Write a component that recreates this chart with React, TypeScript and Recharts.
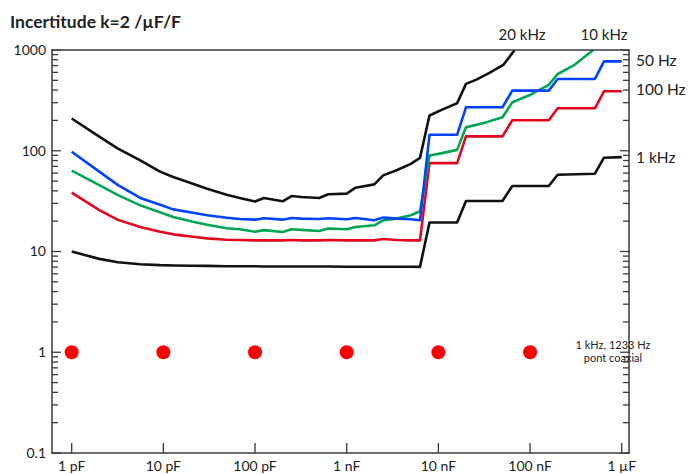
import { ComposedChart, Line, Scatter, XAxis, YAxis } from 'recharts';

// capacitance in pF, uncertainty in µF/F
const capSteps = [1, 2, 3.2, 5.6, 9.2, 12.8, 21, 30, 49, 68, 100, 125, 200, 250, 320, 500, 630, 1000, 1250, 2000, 2500, 3500, 5000, 6300, 8000, 16000, 20000, 50000, 64000, 160000, 200000, 510000, 640000, 1000000];
const u50Hz = [97.7, 62.0, 45.6, 34.0, 29.1, 26.2, 24.2, 22.9, 21.6, 21.0, 20.7, 21.4, 20.7, 21.5, 21.2, 21, 21.4, 20.9, 21.5, 20.4, 21.7, 21.2, 20.9, 20.4, 144, 144, 270, 270, 395, 395, 516, 516, 771, 771];
const u100Hz = [38.4, 25.8, 20.6, 17.5, 15.7, 14.8, 14.0, 13.5, 13.1, 13.0, 12.9, 12.9, 12.9, 13.0, 12.9, 12.9, 13.0, 12.9, 12.9, 12.9, 13.3, 13.0, 12.9, 12.9, 75.4, 75.4, 139, 139, 201, 201, 264, 264, 389, 389];
const u1kHz = [10.0, 8.45, 7.83, 7.48, 7.32, 7.27, 7.22, 7.2, 7.15, 7.15, 7.15, 7.1, 7.1, 7.1, 7.1, 7.1, 7.1, 7.05, 7.05, 7.05, 7.05, 7.05, 7.05, 7.04, 19.4, 19.4, 31.7, 31.7, 44.7, 44.7, 57.8, 59.2, 85.3, 86.4];

const cap20k = [1, 2, 3.2, 5.6, 9.2, 12.8, 21, 30, 49, 68, 100, 125, 200, 250, 320, 500, 630, 1000, 1250, 2000, 2500, 3500, 5000, 6300, 8000, 11000, 16000, 20000, 26000, 36000, 51000, 68000];
const u20kHz = [209, 138, 105, 80.2, 62.1, 54.8, 47.1, 42.0, 36.6, 34.0, 31.3, 34, 31.5, 35.5, 34.7, 34, 37, 37.5, 43, 46.4, 57, 64, 74, 85, 224, 256, 296, 461, 508, 592, 711, 1000];

const cap10k = [1, 2, 3.2, 5.6, 9.2, 12.8, 21, 30, 49, 68, 100, 125, 200, 250, 320, 500, 630, 1000, 1250, 2000, 2500, 3500, 5000, 6300, 8000, 11000, 16000, 20000, 31000, 50000, 64000, 100000, 160000, 200000, 296000, 490000];
const u10kHz = [63.4, 45.6, 36.3, 28.7, 24.5, 22.0, 19.7, 18.4, 17.0, 16.6, 15.7, 16.3, 15.6, 16.6, 16.4, 16.0, 16.9, 16.6, 17.5, 18.2, 20.4, 21.2, 22.9, 25.1, 89.8, 94.7, 102, 171, 188, 215, 303, 358, 450, 578, 699, 1000];

const coaxCap = [1, 10, 100, 1000, 10000, 100000];
const coaxU = [1, 1, 1, 1, 1, 1];

const xTicks = [1, 10, 100, 1000, 10000, 100000, 1000000];
const xLabels = ['1 pF', '10 pF', '100 pF', '1 nF', '10 nF', '100 nF', '1 µF'];
const yDecades = [0.1, 1, 10, 100, 1000];
const yLabels = ['0.1', '1', '10', '100', '1000'];

const zip = (xs: number[], ys: number[]) => xs.map((c, i) => ({ c, v: ys[i] }));

const yMinor: number[] = [];
yDecades.slice(0, 4).forEach((d) => {
  for (let m = 2; m < 10; m++) yMinor.push(d * m);
});

const AXIS = '#3a3a3a';
const FONT = 'Lato, "Open Sans", sans-serif';
const X_DOMAIN: [number, number] = [0.61, 1.2e6];
const Y_DOMAIN: [number, number] = [0.1, 1000];

const labelFor = (vals: number[], labels: string[]) => (v: number) => {
  const i = vals.findIndex((d) => Math.abs(d - v) / d < 1e-6);
  return i >= 0 ? labels[i] : '';
};

// tick marks only, no text
const noLabel = () => <g />;

const lineProps = {
  xAxisId: 'b',
  yAxisId: 'l1',
  dataKey: 'v',
  type: 'linear' as const,
  dot: false,
  strokeWidth: 2.6,
  strokeLinejoin: 'round' as const,
  isAnimationActive: false,
};

const tickLineStyle = { stroke: AXIS, strokeWidth: 1.3 };
const axisLineStyle = { stroke: AXIS, strokeWidth: 1.5 };

export default function App() {
  return (
    <div style={{ position: 'absolute', left: 0, top: 0, width: 691, height: 474, background: '#fff' }}>
      <ComposedChart width={691} height={474} margin={{ top: 0, right: 0, bottom: 0, left: 0 }}>
        <XAxis
          xAxisId="b"
          dataKey="c"
          type="number"
          scale="log"
          domain={X_DOMAIN}
          allowDataOverflow
          ticks={xTicks}
          interval={0}
          height={21}
          stroke={AXIS}
          tickSize={-10}
          tickMargin={18}
          tickLine={tickLineStyle}
          axisLine={axisLineStyle}
          tickFormatter={labelFor(xTicks, xLabels)}
          tick={{ fontSize: 14, fill: '#222', fontFamily: FONT }}
        />
        <XAxis
          xAxisId="t"
          orientation="top"
          type="number"
          scale="log"
          domain={X_DOMAIN}
          allowDataOverflow
          ticks={xTicks}
          interval={0}
          height={50}
          stroke={AXIS}
          tickSize={-10}
          tickLine={tickLineStyle}
          axisLine={axisLineStyle}
          tick={noLabel}
        />
        {/* thin inner axes carry the minor ticks and the frame line */}
        <YAxis
          yAxisId="l0"
          type="number"
          scale="log"
          domain={Y_DOMAIN}
          allowDataOverflow
          ticks={yMinor}
          interval={0}
          width={1}
          stroke={AXIS}
          tickSize={-6}
          tickLine={tickLineStyle}
          axisLine={axisLineStyle}
          tick={noLabel}
        />
        <YAxis
          yAxisId="l1"
          dataKey="v"
          type="number"
          scale="log"
          domain={Y_DOMAIN}
          allowDataOverflow
          ticks={yDecades}
          interval={0}
          width={51}
          stroke={AXIS}
          tickSize={-10}
          tickMargin={15}
          tickLine={tickLineStyle}
          axisLine={false}
          tickFormatter={labelFor(yDecades, yLabels)}
          tick={{ fontSize: 14, fill: '#222', fontFamily: FONT }}
        />
        <YAxis
          yAxisId="r0"
          orientation="right"
          type="number"
          scale="log"
          domain={Y_DOMAIN}
          allowDataOverflow
          ticks={yMinor}
          interval={0}
          width={1}
          stroke={AXIS}
          tickSize={-6}
          tickLine={tickLineStyle}
          axisLine={axisLineStyle}
          tick={noLabel}
        />
        <YAxis
          yAxisId="r1"
          orientation="right"
          type="number"
          scale="log"
          domain={Y_DOMAIN}
          allowDataOverflow
          ticks={yDecades}
          interval={0}
          width={61}
          stroke={AXIS}
          tickSize={-10}
          tickLine={tickLineStyle}
          axisLine={false}
          tick={noLabel}
        />
        <Line {...lineProps} data={zip(capSteps, u1kHz)} stroke="#111111" />
        <Line {...lineProps} data={zip(capSteps, u100Hz)} stroke="#e3061e" />
        <Line {...lineProps} data={zip(cap10k, u10kHz)} stroke="#00a651" />
        <Line {...lineProps} data={zip(capSteps, u50Hz)} stroke="#0043ff" />
        <Line {...lineProps} data={zip(cap20k, u20kHz)} stroke="#111111" />
        <Scatter
          xAxisId="b"
          yAxisId="l1"
          data={zip(coaxCap, coaxU)}
          isAnimationActive={false}
          shape={(p: any) => <circle cx={p.cx} cy={p.cy} r={7} fill="#ff0000" />}
        />
      </ComposedChart>
      <svg
        width={691}
        height={474}
        style={{ position: 'absolute', left: 0, top: 0, pointerEvents: 'none' }}
        fontFamily={FONT}
        fill="#222"
      >
        <text x={10} y={28} fontSize={17.5} fontWeight="bold">Incertitude k=2 /µF/F</text>
        <text x={522} y={40} fontSize={15} textAnchor="middle">20 kHz</text>
        <text x={604} y={40} fontSize={15} textAnchor="middle">10 kHz</text>
        <text x={636} y={66} fontSize={15.5}>50 Hz</text>
        <text x={636} y={95} fontSize={15.5}>100 Hz</text>
        <text x={636} y={163} fontSize={15.5}>1 kHz</text>
        <text x={613} y={349} fontSize={11} textAnchor="middle">1 kHz, 1233 Hz</text>
        <text x={613} y={362} fontSize={11} textAnchor="middle">pont coaxial</text>
      </svg>
    </div>
  );
}
